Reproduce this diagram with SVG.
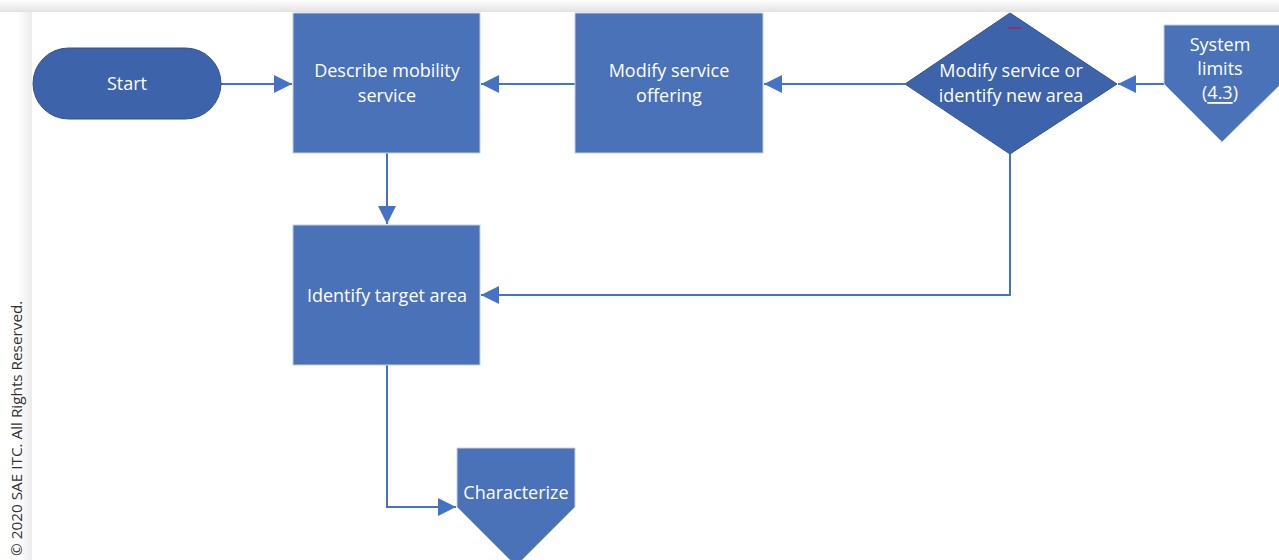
<svg xmlns="http://www.w3.org/2000/svg" width="1279" height="560" viewBox="0 0 1279 560">
  <defs>
    <style>
      .proc { fill: #4A72B8; stroke: #C5CFE0; stroke-width: 1; }
      .dark { fill: #3D64AA; stroke: #2F528F; stroke-width: 1; }
      .label { font-family: "Open Sans", Lato, sans-serif; font-size: 18px; fill: #FFFFFF; text-anchor: middle; dominant-baseline: central; }
      .conn { fill: none; stroke: #4472C4; stroke-width: 2; }
      .note { font-family: "Open Sans", "DejaVu Sans", sans-serif; font-size: 15.3px; fill: #333333; }
    </style>
    <marker id="arrowL" viewBox="0 0 18 18" refX="18" refY="9" markerWidth="18" markerHeight="18" markerUnits="userSpaceOnUse" orient="auto">
      <path d="M0,0 L18,9 L0,18 Z" fill="#4472C4"/>
    </marker>
    <linearGradient id="shadeTop" x1="0" y1="0" x2="0" y2="1">
      <stop offset="0" stop-color="#FFFFFF"/>
      <stop offset="1" stop-color="#E2E2E2"/>
    </linearGradient>
    <linearGradient id="shadeLeft" x1="0" y1="0" x2="1" y2="0">
      <stop offset="0" stop-color="#FFFFFF"/>
      <stop offset="1" stop-color="#EBEBEB"/>
    </linearGradient>
  </defs>

  <!-- page background with soft edge shadow -->
  <rect x="0" y="0" width="1279" height="560" fill="#FFFFFF"/>
  <rect x="0" y="0" width="1279" height="12" fill="url(#shadeTop)"/>
  <rect x="18" y="12" width="14" height="548" fill="url(#shadeLeft)"/>

  <!-- copyright line -->
  <text class="note" transform="translate(22,556) rotate(-90)">© 2020 SAE ITC. All Rights Reserved.</text>

  <!-- connectors -->
  <g id="connectors">
    <path class="conn" d="M221,84 H292" marker-end="url(#arrowL)"/>
    <path class="conn" d="M575,84 H481" marker-end="url(#arrowL)"/>
    <path class="conn" d="M905,84 H764" marker-end="url(#arrowL)"/>
    <path class="conn" d="M1164,84 H1118" marker-end="url(#arrowL)"/>
    <path class="conn" d="M387,153 V224" marker-end="url(#arrowL)"/>
    <path class="conn" d="M1010,154 V295 H481" marker-end="url(#arrowL)"/>
    <path class="conn" d="M387,365 V507 H456" marker-end="url(#arrowL)"/>
  </g>

  <!-- nodes -->
  <g id="start">
    <rect class="dark" x="33" y="48" width="188" height="71" rx="35.5" ry="35.5"/>
    <text class="label" x="127" y="83">Start</text>
  </g>

  <g id="describe">
    <rect class="proc" x="293" y="13" width="187" height="140"/>
    <text class="label" x="387" y="70">Describe mobility</text>
    <text class="label" x="387" y="95">service</text>
  </g>

  <g id="modify-offering">
    <rect class="proc" x="575" y="13" width="188" height="140"/>
    <text class="label" x="669" y="70">Modify service</text>
    <text class="label" x="669" y="95">offering</text>
  </g>

  <g id="decision">
    <polygon class="dark" points="1010,13 1117,84 1010,154 905,84"/>
    <line x1="1008" y1="28" x2="1022" y2="28" stroke="#9B2D4A" stroke-width="1.5"/>
    <text class="label" x="1011" y="70">Modify service or</text>
    <text class="label" x="1011" y="95">identify new area</text>
  </g>

  <g id="system-limits">
    <polygon class="proc" points="1164,25 1281,25 1281,84 1222,142 1164,84"/>
    <text class="label" x="1220" y="44">System</text>
    <text class="label" x="1220" y="68">limits</text>
    <text class="label" x="1220" y="92">(<tspan text-decoration="underline">4.3</tspan>)</text>
  </g>

  <g id="identify">
    <rect class="proc" x="293" y="225" width="187" height="140"/>
    <text class="label" x="387" y="295">Identify target area</text>
  </g>

  <g id="characterize">
    <polygon class="proc" points="457,448 575,448 575,507 516,566 457,507"/>
    <text class="label" x="516" y="492">Characterize</text>
  </g>
</svg>
